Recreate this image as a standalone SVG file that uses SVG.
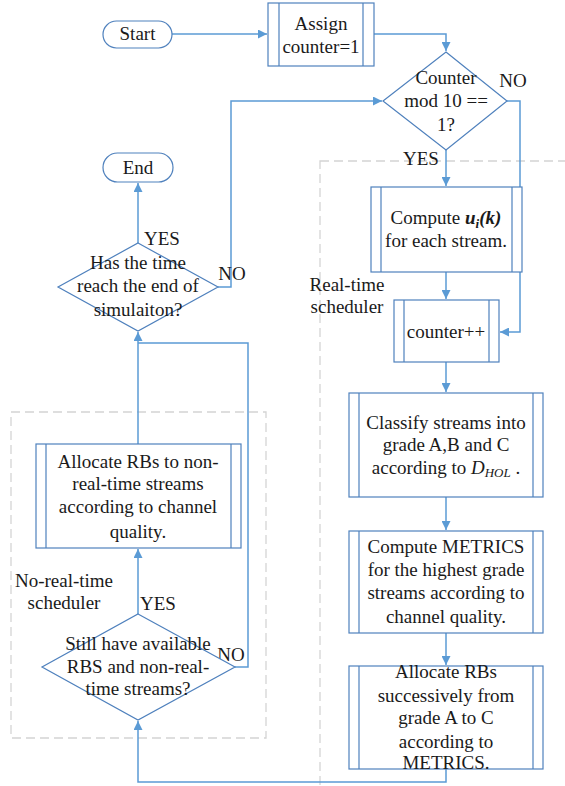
<svg xmlns="http://www.w3.org/2000/svg" width="565" height="786" viewBox="0 0 565 786">
  <style>
    .shape { fill: #ffffff; stroke: #4f81bd; stroke-width: 1.2; }
    .inner { fill: none; stroke: #4f81bd; stroke-width: 1.2; }
    .wire { fill: none; stroke: #5b9bd5; stroke-width: 1.5; }
    .group { fill: none; stroke: #d4d4d4; stroke-width: 1.3; stroke-dasharray: 9 5; }
    text { font-family: "Liberation Serif", "Times New Roman", serif; font-size: 19px; fill: #1a1a1a; }
    .c { text-anchor: middle; }
    .bi { font-weight: bold; font-style: italic; }
    .it { font-style: italic; }
  </style>
  <defs>
    <marker id="arrow" viewBox="0 0 10 10" refX="10" refY="5" markerWidth="9" markerHeight="9" markerUnits="userSpaceOnUse" orient="auto">
      <path d="M0,0 L10,5 L0,10 z" fill="#5b9bd5"/>
    </marker>
  </defs>

  <!-- scheduler groupings -->
  <g id="groups">
    <rect class="group" x="11" y="412" width="255" height="326"/>
    <rect class="group" x="320" y="161" width="260" height="640"/>
    <text x="347" y="291" class="c">Real-time</text>
    <text x="347" y="313" class="c">scheduler</text>
    <text x="64" y="587" class="c">No-real-time</text>
    <text x="64" y="609" class="c">scheduler</text>
  </g>

  <!-- connectors -->
  <g id="connectors">
    <path class="wire" d="M172,34 H267" marker-end="url(#arrow)"/>
    <path class="wire" d="M374,34 H446 V51" marker-end="url(#arrow)"/>
    <path class="wire" d="M446,150 V186" marker-end="url(#arrow)"/>
    <path class="wire" d="M507,101 H520 V332 H500" marker-end="url(#arrow)"/>
    <path class="wire" d="M446,272 V299" marker-end="url(#arrow)"/>
    <path class="wire" d="M446,362 V392" marker-end="url(#arrow)"/>
    <path class="wire" d="M446,497 V530" marker-end="url(#arrow)"/>
    <path class="wire" d="M446,633 V665" marker-end="url(#arrow)"/>
    <path class="wire" d="M446,769 V782 H138 V721" marker-end="url(#arrow)"/>
    <path class="wire" d="M138,614 V549" marker-end="url(#arrow)"/>
    <path class="wire" d="M138,444 V332" marker-end="url(#arrow)"/>
    <path class="wire" d="M235,667 H248 V343 H138"/>
    <path class="wire" d="M138,243 V183" marker-end="url(#arrow)"/>
    <path class="wire" d="M218,287 H231 V101 H382" marker-end="url(#arrow)"/>
    <text x="513" y="87" class="c">NO</text>
    <text x="421" y="165" class="c">YES</text>
    <text x="162" y="245" class="c">YES</text>
    <text x="232" y="280" class="c">NO</text>
    <text x="158" y="610" class="c">YES</text>
    <text x="231" y="661" class="c">NO</text>
  </g>

  <g id="start">
    <rect class="shape" x="103" y="21" width="69" height="27" rx="13.5"/>
    <text x="137.5" y="40" class="c">Start</text>
  </g>

  <g id="assign">
    <rect class="shape" x="268" y="3" width="106" height="63"/>
    <path class="inner" d="M279,3 V66 M363,3 V66"/>
    <text x="321" y="30" class="c">Assign</text>
    <text x="321" y="53" class="c">counter=1</text>
  </g>

  <g id="check-mod">
    <polygon class="shape" points="446,52 507,101 446,150 383,101"/>
    <text x="446" y="84" class="c">Counter</text>
    <text x="446" y="107" class="c">mod 10 ==</text>
    <text x="446" y="131" class="c">1?</text>
  </g>

  <g id="compute-u">
    <rect class="shape" x="371" y="187" width="151" height="85"/>
    <path class="inner" d="M381,187 V272 M512,187 V272"/>
    <text x="446" y="224" class="c">Compute  <tspan class="bi">u</tspan><tspan class="bi" font-size="13" dy="4">i</tspan><tspan class="bi" dy="-4">(k)</tspan></text>
    <text x="446" y="247" class="c">for each stream.</text>
  </g>

  <g id="counter-inc">
    <rect class="shape" x="394" y="300" width="105" height="62"/>
    <path class="inner" d="M404,300 V362 M489,300 V362"/>
    <text x="446" y="338" class="c">counter++</text>
  </g>

  <g id="classify">
    <rect class="shape" x="349" y="393" width="194" height="104"/>
    <path class="inner" d="M359,393 V497 M533,393 V497"/>
    <text x="446" y="429" class="c">Classify streams into</text>
    <text x="446" y="451" class="c">grade A,B and C</text>
    <text x="446" y="474" class="c">according to <tspan class="it">D</tspan><tspan class="it" font-size="13" dy="3">HOL</tspan><tspan dy="-3"> .</tspan></text>
  </g>

  <g id="compute-metrics">
    <rect class="shape" x="349" y="531" width="194" height="102"/>
    <path class="inner" d="M359,531 V633 M533,531 V633"/>
    <text x="446" y="553" class="c">Compute METRICS</text>
    <text x="446" y="576" class="c">for the highest grade</text>
    <text x="446" y="599" class="c">streams according to</text>
    <text x="446" y="623" class="c">channel quality.</text>
  </g>

  <g id="allocate-rt">
    <rect class="shape" x="349" y="666" width="194" height="103"/>
    <path class="inner" d="M359,666 V769 M533,666 V769"/>
    <text x="446" y="678" class="c">Allocate RBs</text>
    <text x="446" y="702" class="c">successively from</text>
    <text x="446" y="724" class="c">grade A to C</text>
    <text x="446" y="748" class="c">according to</text>
    <text x="446" y="769" class="c">METRICS.</text>
  </g>

  <g id="check-rbs">
    <polygon class="shape" points="138,614 235,667 138,720 42,667"/>
    <text x="138" y="650" class="c">Still have available</text>
    <text x="138" y="673" class="c">RBS and non-real-</text>
    <text x="138" y="695" class="c">time streams?</text>
  </g>

  <g id="allocate-nrt">
    <rect class="shape" x="36" y="444" width="205" height="104"/>
    <path class="inner" d="M46,444 V548 M231,444 V548"/>
    <text x="138" y="468" class="c">Allocate RBs to non-</text>
    <text x="138" y="490" class="c">real-time streams</text>
    <text x="138" y="513" class="c">according to channel</text>
    <text x="138" y="538" class="c">quality.</text>
  </g>

  <g id="check-time">
    <polygon class="shape" points="138,243 218,287 138,331 58,287"/>
    <text x="138" y="269" class="c">Has the time</text>
    <text x="138" y="292" class="c">reach the end of</text>
    <text x="138" y="316" class="c">simulaiton?</text>
  </g>

  <g id="end">
    <rect class="shape" x="103" y="153" width="70" height="29" rx="14.5"/>
    <text x="138" y="174" class="c">End</text>
  </g>
</svg>
